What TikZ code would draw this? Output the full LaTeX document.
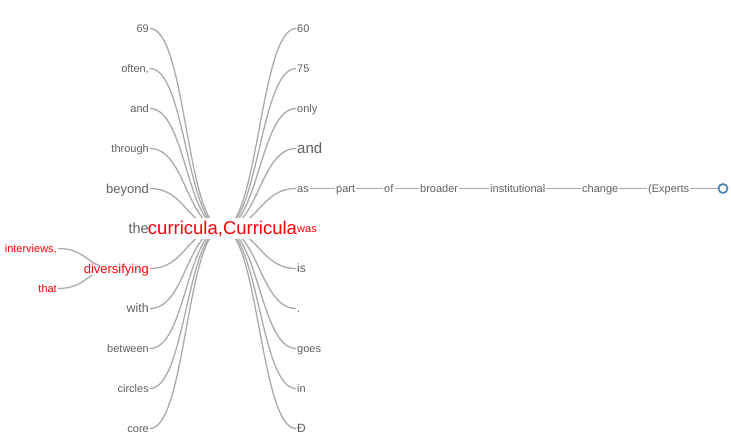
\documentclass[tikz,border=0pt]{standalone}
\usepackage{fontspec}
\setmainfont{Liberation Sans}
\usetikzlibrary{backgrounds}
\definecolor{wgray}{HTML}{606060}
\definecolor{lgray}{HTML}{AAAAAA}
\definecolor{wred}{HTML}{FF0000}
\definecolor{sblue}{HTML}{4682B4}
\newcommand\wfs[1]{\fontsize{#1}{#1}\selectfont}
\begin{document}
\begin{tikzpicture}[x=1pt,y=-1pt,
  word/.style={inner xsep=1pt, inner ysep=0pt, text height={0.7*#1}, text depth=0pt, text=wgray, font=\wfs{#1}},
  wl/.style={word=#1, anchor=east},
  wr/.style={word=#1, anchor=west},
  hit/.style={text=wred},
  halo/.style={fill=white},
  link/.style={draw=lgray, line width=1.3pt},
  endmark/.style={circle, draw=sblue, line width=1.7pt, fill=white, minimum size=9pt, inner sep=0pt}
]
\useasboundingbox (0,0) rectangle (731,447);

% left column
\node[wl=11] (l0) at (150,28.5) {69};
\node[wl=11] (l1) at (150,68.5) {often,};
\node[wl=11] (l2) at (150,108.5) {and};
\node[wl=11] (l3) at (150,148.5) {through};
\node[wl=13] (l4) at (150,188.5) {beyond};
\node[wl=14.5] (the) at (150,228.5) {the};
% glyph-like halo behind diversifying
\fill[white] (86,265.5) rectangle (149,275);
\node[wl=13, hit] (div) at (150,268.5) {diversifying};
\node[wl=12.5] (l7) at (150,308.5) {with};
\node[wl=11] (l8) at (150,348.5) {between};
\node[wl=11] (l9) at (150,388.5) {circles};
\node[wl=11] (l10) at (150,428.5) {core};

% children of diversifying
\node[wl=11, hit] (iv) at (58,248.5) {interviews,};
\node[wl=11, hit] (th) at (58,288.5) {that};

% center
\node[word=18.5, hit, halo, inner xsep=0pt, inner ysep=4pt] (c) at (222.5,228.5) {curricula,Curricula};

% right column
\node[wr=11] (r0) at (296,28.5) {60};
\node[wr=11] (r1) at (296,68.5) {75};
\node[wr=11] (r2) at (296,108.5) {only};
\node[wr=15] (r3) at (296,148.5) {and};
\node[wr=11] (as) at (296,188.5) {as};
\node[wr=11, hit] (was) at (296,228.5) {was};
\node[wr=12] (r6) at (296,268.5) {is};
\node[wr=11] (r7) at (296,308.5) {.};
\node[wr=11] (r8) at (296,348.5) {goes};
\node[wr=11] (r9) at (296,388.5) {in};
\node[wr=12] (r10) at (296,428.5) {Ð};

% chain
\node[wr=11] (part) at (335,188.5) {part};
\node[wr=11] (of) at (383,188.5) {of};
\node[wr=11] (broader) at (419,188.5) {broader};
\node[wr=11] (inst) at (489,188.5) {institutional};
\node[wr=11] (change) at (581,188.5) {change};
\node[wr=11] (experts) at (647,188.5) {(Experts};
\node[endmark] (end) at (723,188.5) {};

\begin{pgfonlayer}{background}
\foreach \n in {l0,l1,l2,l3,l4,the,div,l7,l8,l9,l10}
  \draw[link] (\n.east) .. controls +(36,0) and +(-36,0) .. (c.center);
\foreach \n in {r0,r1,r2,r3,as,was,r6,r7,r8,r9,r10}
  \draw[link] (c.center) .. controls +(36,0) and +(-36,0) .. (\n.west);
\foreach \n in {iv,th}
  \draw[link] (\n.east) .. controls +(30,0) and +(-30,0) .. (div.center);
\draw[link] (as.east) -- (part.west);
\draw[link] (part.east) -- (of.west);
\draw[link] (of.east) -- (broader.west);
\draw[link] (broader.east) -- (inst.west);
\draw[link] (inst.east) -- (change.west);
\draw[link] (change.east) -- (experts.west);
\draw[link] (experts.east) -- (end.west);
\end{pgfonlayer}
\end{tikzpicture}
\end{document}
